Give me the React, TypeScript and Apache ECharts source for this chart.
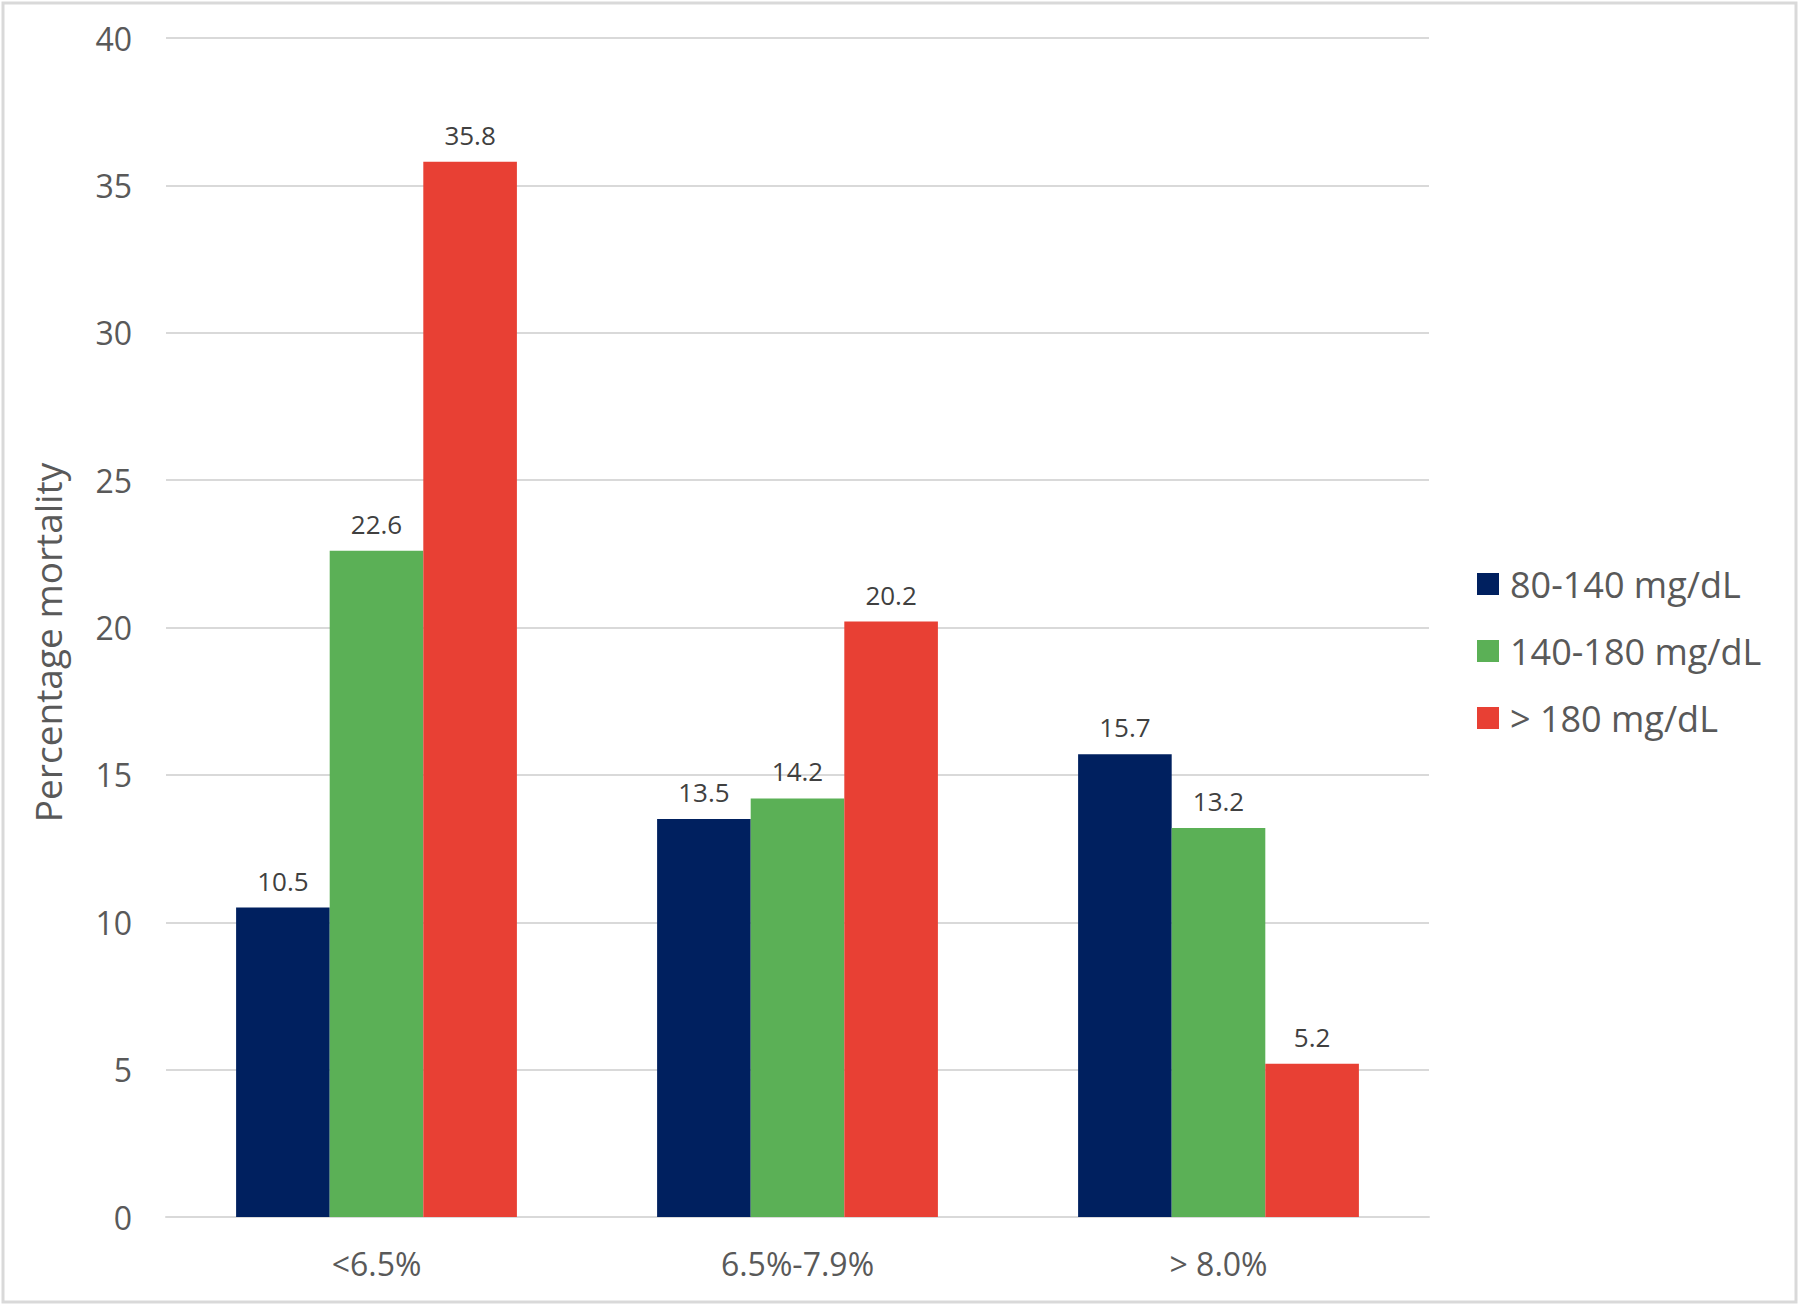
import React, { useEffect, useRef } from "react";
import * as echarts from "echarts";

const categories = ["<6.5%", "6.5%-7.9%", "> 8.0%"];
const seriesNames = ["80-140 mg/dL", "140-180 mg/dL", "> 180 mg/dL"];
const low = [10.5, 13.5, 15.7];
const mid = [22.6, 14.2, 13.2];
const high = [35.8, 20.2, 5.2];
const colors = ["#00205F", "#5BB056", "#E84034"];
const yAxisName = "Percentage mortality";

const FONT = "'Open Sans', sans-serif";

export default function App() {
  const ref = useRef<HTMLDivElement>(null);
  useEffect(() => {
    if (!ref.current) return;
    const chart = echarts.init(ref.current, null, { renderer: "svg" });
    const values = [low, mid, high];
    chart.setOption({
      animation: false,
      backgroundColor: "#ffffff",
      textStyle: { fontFamily: FONT },
      graphic: [
        {
          type: "rect",
          shape: { x: 3, y: 3, width: 1793, height: 1299 },
          style: { fill: "none", stroke: "#d9d9d9", lineWidth: 3 },
          silent: true,
        },
      ],
      grid: { left: 166, right: 371, top: 38, bottom: 89 },
      legend: {
        orient: "vertical",
        left: 1472,
        top: 559,
        itemWidth: 22,
        itemHeight: 22,
        itemGap: 27,
        icon: "rect",
        textStyle: {
          fontFamily: FONT,
          fontSize: 36,
          color: "#595959",
          lineHeight: 40,
          padding: [0, 0, 0, 6],
        },
        data: seriesNames,
      },
      xAxis: {
        type: "category",
        data: categories,
        axisLine: { lineStyle: { color: "#d9d9d9", width: 2 } },
        axisTick: { show: false },
        axisLabel: { fontFamily: FONT, fontSize: 32, color: "#595959", margin: 30 },
      },
      yAxis: {
        type: "value",
        min: 0,
        max: 40,
        interval: 5,
        name: yAxisName,
        nameLocation: "middle",
        nameGap: 100,
        nameRotate: 90,
        nameTextStyle: {
          fontFamily: FONT,
          fontSize: 37,
          color: "#595959",
          padding: [0, 30, 0, 0],
        },
        axisLine: { show: false },
        axisTick: { show: false },
        axisLabel: { fontFamily: FONT, fontSize: 32, color: "#595959", margin: 34 },
        splitLine: { lineStyle: { color: "#d9d9d9", width: 2 } },
      },
      series: seriesNames.map((name, i) => ({
        name,
        type: "bar",
        data: values[i],
        barGap: "0%",
        barCategoryGap: "33.3%",
        itemStyle: { color: colors[i] },
        label: {
          show: true,
          position: "top",
          distance: 14,
          fontFamily: FONT,
          fontSize: 26,
          color: "#404040",
        },
      })),
    });
    return () => chart.dispose();
  }, []);
  return (
    <div
      ref={ref}
      style={{ position: "fixed", left: 0, top: 0, width: 1800, height: 1306 }}
    />
  );
}
